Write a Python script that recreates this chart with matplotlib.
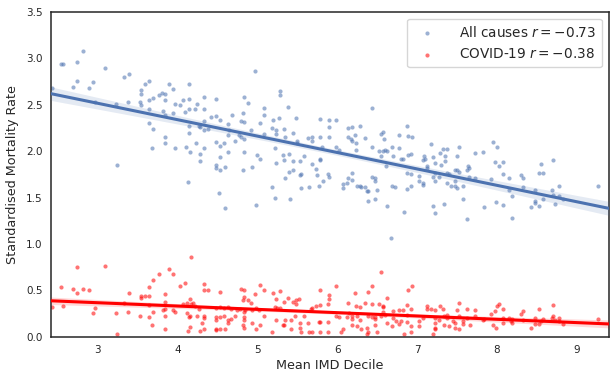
import numpy as np
import matplotlib
matplotlib.use('Agg')
import matplotlib.pyplot as plt

# all-cause standardised mortality rate vs mean IMD decile
all_x = [2.82, 2.54, 2.57, 2.75, 3.09, 3.33, 3.39, 2.69, 2.74, 2.89, 2.95, 2.43, 2.97, 3.23, 3.38,
         3.54, 3.54, 3.59, 3.64, 3.53, 3.55, 3.65, 3.69, 3.64, 3.77, 3.81, 3.84, 3.90, 3.95, 3.84,
         3.97, 4.03, 4.07, 3.82, 3.84, 3.95, 4.09, 4.15, 4.15, 4.15, 3.64, 3.69, 3.84, 3.84, 3.68,
         3.97, 4.11, 4.15, 4.15, 3.24, 4.14,
         4.33, 4.25, 4.22, 4.34, 4.49, 4.97, 4.84, 4.89, 4.82, 4.69, 5.08, 5.09, 5.28, 5.28, 5.38,
         5.20, 5.27, 5.48, 5.79, 5.90, 4.42, 4.48, 4.54, 4.34, 4.27, 4.29, 4.34, 4.39, 4.64, 4.65,
         4.64, 4.80, 4.83, 4.92, 5.03, 5.09, 5.19, 5.23, 5.24, 5.34, 5.35, 5.45, 4.77, 4.80, 4.84,
         4.72, 4.49, 4.54, 4.59, 4.23, 4.16, 4.34, 4.29, 4.29, 4.53, 4.49, 4.49, 4.54, 4.60, 4.64,
         4.83, 4.82, 4.94, 5.00, 5.03, 5.22, 5.32, 5.40, 5.34, 5.24, 5.45, 5.53, 5.50, 5.50, 5.58,
         5.63, 5.68, 5.69, 5.79, 5.81, 5.78, 5.79, 5.69, 5.73, 5.75, 5.40, 5.45, 5.35, 5.53, 5.55,
         5.55, 5.65, 5.77, 5.82, 5.89, 5.90, 5.18, 5.22, 5.41, 4.99, 4.52, 4.60, 5.90, 5.90,
         6.43, 5.99, 5.98, 6.02, 6.13, 6.18, 6.28, 6.14, 6.17, 6.18, 6.22, 6.24, 6.23, 6.35, 6.43,
         6.52, 6.58, 6.60, 6.63, 6.55, 6.57, 6.59, 6.55, 6.69, 6.70, 6.78, 6.77, 6.87, 6.89, 6.94,
         6.80, 6.83, 6.89, 6.93, 6.61, 6.87, 6.93, 7.02, 7.02, 7.07, 7.08, 6.88, 6.93, 6.69, 6.73,
         6.38, 6.39, 6.48, 6.50, 6.44, 6.48, 6.47, 6.25, 6.29, 6.30, 6.35, 6.37, 6.18, 6.18, 6.13,
         6.12, 6.07, 6.07, 6.62, 6.84, 6.68, 7.17, 7.09, 7.10, 7.08, 7.12, 7.12, 7.20, 7.22, 7.29,
         7.32, 7.37, 7.35, 7.35, 7.30, 7.22, 7.20, 7.22, 7.28, 7.38, 7.40, 7.38, 7.42, 7.48, 7.48,
         7.50, 7.57, 7.47, 7.50, 7.53, 7.50, 7.53, 7.58, 7.63, 7.20, 7.22, 7.34, 7.64, 7.65, 7.63,
         7.65,
         7.95, 8.00, 7.73, 7.82, 7.97, 8.03, 8.08, 8.07, 7.93, 7.73, 8.15, 8.30, 8.33, 8.15, 8.19,
         8.33, 7.84, 7.99, 8.07, 8.19, 8.52, 8.57, 8.55, 8.70, 8.48, 8.78, 8.69, 8.58, 8.70, 8.78,
         8.83, 8.73, 8.43, 8.48, 8.48, 8.52, 9.27]
all_y = [3.08, 2.94, 2.94, 2.96, 2.89, 2.80, 2.83, 2.69, 2.76, 2.68, 2.74, 2.68, 2.53, 2.51, 2.53,
         2.66, 2.62, 2.72, 2.76, 2.53, 2.50, 2.55, 2.57, 2.45, 2.60, 2.63, 2.62, 2.72, 2.67, 2.55,
         2.51, 2.50, 2.55, 2.43, 2.39, 2.41, 2.42, 2.45, 2.72, 2.56, 2.30, 2.24, 2.15, 2.09, 2.03,
         2.03, 2.04, 2.27, 2.20, 1.85, 1.67,
         2.58, 2.51, 2.45, 2.45, 2.56, 2.86, 2.58, 2.52, 2.41, 2.39, 2.46, 2.39, 2.65, 2.60, 2.48,
         2.34, 2.36, 2.36, 2.35, 2.34, 2.37, 2.38, 2.34, 2.33, 2.27, 2.26, 2.23, 2.24, 2.29, 2.23,
         2.17, 2.33, 2.31, 2.23, 2.30, 2.19, 2.25, 2.19, 2.23, 2.24, 2.15, 2.20, 2.17, 2.15, 2.13,
         2.11, 2.10, 2.06, 2.09, 2.09, 1.99, 2.03, 1.97, 1.89, 1.94, 1.85, 1.82, 1.80, 1.83, 1.99,
         1.99, 1.80, 1.83, 1.96, 1.92, 2.03, 1.96, 1.97, 1.90, 1.87, 1.89, 1.89, 2.09, 2.11, 1.95,
         2.14, 2.15, 2.11, 2.15, 2.04, 1.90, 1.92, 1.86, 1.81, 1.74, 1.78, 1.80, 1.71, 1.74, 1.75,
         1.60, 1.61, 1.63, 1.68, 1.75, 1.72, 1.61, 1.50, 1.48, 1.42, 1.55, 1.39, 2.26, 2.15,
         2.46, 2.34, 2.05, 2.01, 2.25, 2.26, 2.27, 2.15, 2.13, 2.11, 2.17, 2.09, 2.01, 2.14, 2.05,
         2.00, 2.00, 2.01, 2.00, 2.19, 2.21, 2.13, 1.95, 2.05, 1.95, 2.03, 2.17, 2.27, 2.16, 2.15,
         1.92, 1.92, 1.96, 1.97, 1.84, 1.77, 1.75, 1.73, 1.68, 1.66, 1.64, 1.59, 1.63, 1.62, 1.61,
         1.57, 1.46, 1.49, 1.58, 1.72, 1.71, 1.68, 1.62, 1.62, 1.61, 1.61, 1.57, 1.76, 1.69, 1.71,
         1.66, 1.65, 1.60, 1.41, 1.34, 1.07, 2.08, 1.95, 1.92, 1.90, 1.84, 1.82, 1.94, 1.87, 1.98,
         2.02, 2.02, 1.95, 1.89, 1.85, 1.77, 1.72, 1.68, 1.72, 1.76, 1.75, 1.66, 1.63, 1.68, 1.63,
         1.60, 1.62, 1.80, 1.80, 1.78, 1.95, 2.05, 1.49, 1.27, 1.41, 1.33, 1.43, 1.84, 1.82, 1.80,
         1.72,
         2.10, 2.04, 1.98, 1.99, 1.88, 1.84, 1.88, 1.75, 1.70, 1.71, 1.71, 1.74, 1.71, 1.58, 1.52,
         1.61, 1.40, 1.45, 1.42, 1.28, 1.77, 1.77, 1.86, 1.91, 1.58, 1.63, 1.58, 1.49, 1.53, 1.52,
         1.48, 1.43, 1.40, 1.46, 1.44, 1.41, 1.63]

# COVID-19 standardised mortality rate vs mean IMD decile
cov_x = [2.74, 3.09, 2.54, 2.69, 2.75, 2.82, 2.89, 2.43, 2.57, 2.97, 2.95, 3.23, 3.24, 3.38, 3.33,
         3.39, 3.53, 3.54, 3.54, 3.59, 3.64, 3.64, 3.69, 3.77, 3.90, 3.95, 4.03, 4.09, 3.64, 3.65,
         3.69, 3.68, 3.84, 3.84, 3.84, 3.82, 3.84, 3.84, 3.95, 3.97, 4.07, 4.12, 4.12, 4.14, 4.15,
         4.17,
         4.33, 4.33, 4.39, 4.54, 4.80, 4.84, 5.03, 5.08, 5.20, 5.28, 4.83, 4.82, 4.89, 4.92, 4.97,
         5.23, 5.38, 5.34, 5.45, 5.49, 5.52, 5.48, 5.79, 5.90, 5.90, 5.78, 5.73, 5.69, 5.67, 5.88,
         4.16, 4.20, 4.17, 4.22, 4.27, 4.16, 4.25, 4.34, 4.34, 4.48, 4.54, 4.58, 4.48, 4.53, 4.58,
         4.63, 4.67, 4.72, 4.75, 4.78, 4.84, 4.83, 4.84, 4.85, 4.94, 4.99, 5.02, 4.31, 4.34, 4.29,
         4.48, 4.48, 4.49, 4.54, 4.60, 4.64, 4.64, 4.67, 4.82, 4.83, 4.94, 4.99, 5.03, 5.09, 5.18,
         5.22, 5.25, 5.28, 5.24, 5.32, 5.34, 5.35, 5.42, 5.42, 5.47, 5.53, 5.53, 5.55, 5.63, 5.65,
         5.69, 5.77, 5.79, 5.78, 5.88, 5.89, 5.58, 4.16,
         6.55, 5.99, 6.43, 6.38, 6.22, 6.94, 6.89, 6.13, 6.23, 6.28, 6.35, 6.43, 6.52, 6.58, 6.63,
         6.57, 6.87, 6.93, 7.12, 7.12, 7.17, 7.23, 7.29, 7.32, 7.50, 7.53, 7.63, 5.98, 6.02, 6.12,
         6.15, 6.18, 6.18, 6.25, 6.29, 6.38, 6.43, 6.47, 6.48, 6.55, 6.58, 6.60, 6.70, 6.78, 6.83,
         6.88, 6.70, 6.74, 6.80, 6.87, 6.18, 6.25, 6.30, 6.37, 6.38, 6.37, 6.07, 6.05, 6.47, 6.50,
         6.62, 6.69, 6.77, 6.84, 6.93, 6.93, 7.02, 7.02, 7.08, 7.22, 7.22, 7.23, 7.20, 7.22, 7.28,
         7.34, 7.34, 7.40, 7.45, 7.48, 7.48, 7.53, 7.57, 7.62, 7.58, 7.37, 7.38, 7.52,
         8.00, 8.03, 7.97, 7.93, 8.07, 7.73, 7.73, 7.66, 7.82, 7.84, 7.95, 7.99, 8.07, 8.07, 8.15,
         8.17, 8.19, 8.19, 8.30, 8.33, 8.33, 8.52, 8.48, 8.43, 8.48, 8.52, 8.55, 8.58, 8.70, 8.70,
         8.69, 8.73, 8.78, 8.78, 8.83, 9.27]
cov_y = [0.75, 0.76, 0.54, 0.52, 0.47, 0.52, 0.51, 0.32, 0.33, 0.31, 0.26, 0.26, 0.03, 0.27, 0.37,
         0.47, 0.23, 0.44, 0.42, 0.44, 0.44, 0.54, 0.61, 0.68, 0.73, 0.68, 0.55, 0.58, 0.34, 0.21,
         0.27, 0.13, 0.46, 0.38, 0.30, 0.29, 0.23, 0.09, 0.29, 0.27, 0.35, 0.26, 0.36, 0.06, 0.21,
         0.86,
         0.57, 0.50, 0.50, 0.48, 0.52, 0.50, 0.56, 0.50, 0.47, 0.49, 0.43, 0.40, 0.40, 0.36, 0.46,
         0.41, 0.42, 0.38, 0.38, 0.40, 0.41, 0.35, 0.50, 0.45, 0.41, 0.34, 0.33, 0.31, 0.30, 0.35,
         0.41, 0.37, 0.35, 0.33, 0.30, 0.22, 0.22, 0.22, 0.20, 0.21, 0.21, 0.23, 0.31, 0.32, 0.31,
         0.32, 0.30, 0.23, 0.29, 0.30, 0.27, 0.21, 0.18, 0.29, 0.29, 0.31, 0.29, 0.15, 0.09, 0.06,
         0.18, 0.09, 0.07, 0.08, 0.08, 0.18, 0.15, 0.19, 0.13, 0.10, 0.15, 0.08, 0.13, 0.22, 0.05,
         0.32, 0.31, 0.31, 0.18, 0.13, 0.13, 0.18, 0.18, 0.08, 0.22, 0.15, 0.10, 0.05, 0.15, 0.05,
         0.05, 0.16, 0.16, 0.05, 0.05, 0.16, 0.23, 0.11,
         0.70, 0.55, 0.55, 0.48, 0.47, 0.55, 0.50, 0.36, 0.33, 0.32, 0.37, 0.35, 0.35, 0.32, 0.42,
         0.33, 0.34, 0.30, 0.33, 0.30, 0.30, 0.29, 0.33, 0.30, 0.29, 0.36, 0.30, 0.22, 0.21, 0.21,
         0.26, 0.22, 0.19, 0.23, 0.18, 0.22, 0.21, 0.21, 0.19, 0.22, 0.27, 0.24, 0.28, 0.29, 0.29,
         0.24, 0.20, 0.17, 0.17, 0.16, 0.13, 0.12, 0.09, 0.10, 0.05, 0.03, 0.08, 0.05, 0.13, 0.05,
         0.15, 0.12, 0.14, 0.03, 0.12, 0.05, 0.17, 0.12, 0.20, 0.20, 0.15, 0.10, 0.03, 0.08, 0.18,
         0.22, 0.13, 0.12, 0.17, 0.15, 0.10, 0.08, 0.14, 0.20, 0.17, 0.24, 0.20, 0.23,
         0.33, 0.35, 0.28, 0.25, 0.30, 0.29, 0.23, 0.13, 0.18, 0.19, 0.13, 0.10, 0.20, 0.15, 0.20,
         0.17, 0.15, 0.19, 0.25, 0.28, 0.18, 0.30, 0.20, 0.10, 0.14, 0.14, 0.17, 0.19, 0.34, 0.23,
         0.20, 0.18, 0.20, 0.17, 0.14, 0.19]

labels = ['All causes $r = -0.73$', 'COVID-19 $r = -0.38$']
colors = ['#4c72b0', 'red']

plt.rcParams['font.family'] = ['DejaVu Sans']
text_col = '#262626'

fig = plt.figure(figsize=(6.15, 3.82), dpi=100)
ax = fig.add_axes([0.083, 0.118, 0.907, 0.851])
xlim = (2.42, 9.4)


def reg(ax, x, y, color, label):
    x = np.asarray(x)
    y = np.asarray(y)
    ax.scatter(x, y, s=9, color=color, alpha=0.55, linewidths=0, label=label, zorder=2)
    b, a = np.polyfit(x, y, 1)
    grid = np.linspace(xlim[0], xlim[1], 100)
    fit = a + b * grid
    resid = y - (a + b * x)
    n = len(x)
    s = np.sqrt(np.sum(resid ** 2) / (n - 2))
    se = s * np.sqrt(1 / n + (grid - x.mean()) ** 2 / np.sum((x - x.mean()) ** 2))
    ax.fill_between(grid, fit - 1.97 * se, fit + 1.97 * se, color=color, alpha=0.15,
                    linewidth=0, zorder=3)
    ax.plot(grid, fit, color=color, linewidth=2.2, zorder=4)


reg(ax, all_x, all_y, colors[0], labels[0])
reg(ax, cov_x, cov_y, colors[1], labels[1])

ax.set_xlim(*xlim)
ax.set_ylim(0, 3.5)
ax.set_xticks(range(3, 10))
ax.set_yticks(np.arange(0, 3.6, 0.5))
ax.tick_params(length=0, labelsize=7.5, colors=text_col, pad=6)
for sp in ax.spines.values():
    sp.set_color('#262626')
    sp.set_linewidth(1.1)
ax.set_xlabel('Mean IMD Decile', fontsize=9.2, color=text_col, labelpad=3)
ax.set_ylabel('Standardised Mortality Rate', fontsize=9.2, color=text_col, labelpad=5)

leg = ax.legend(loc='upper right', fontsize=9.8, frameon=True, handletextpad=1.4,
                borderpad=0.45, labelspacing=0.55)
leg.get_frame().set_edgecolor('#cccccc')
for t in leg.get_texts():
    t.set_color(text_col)

fig.savefig('out.png', dpi=100)
